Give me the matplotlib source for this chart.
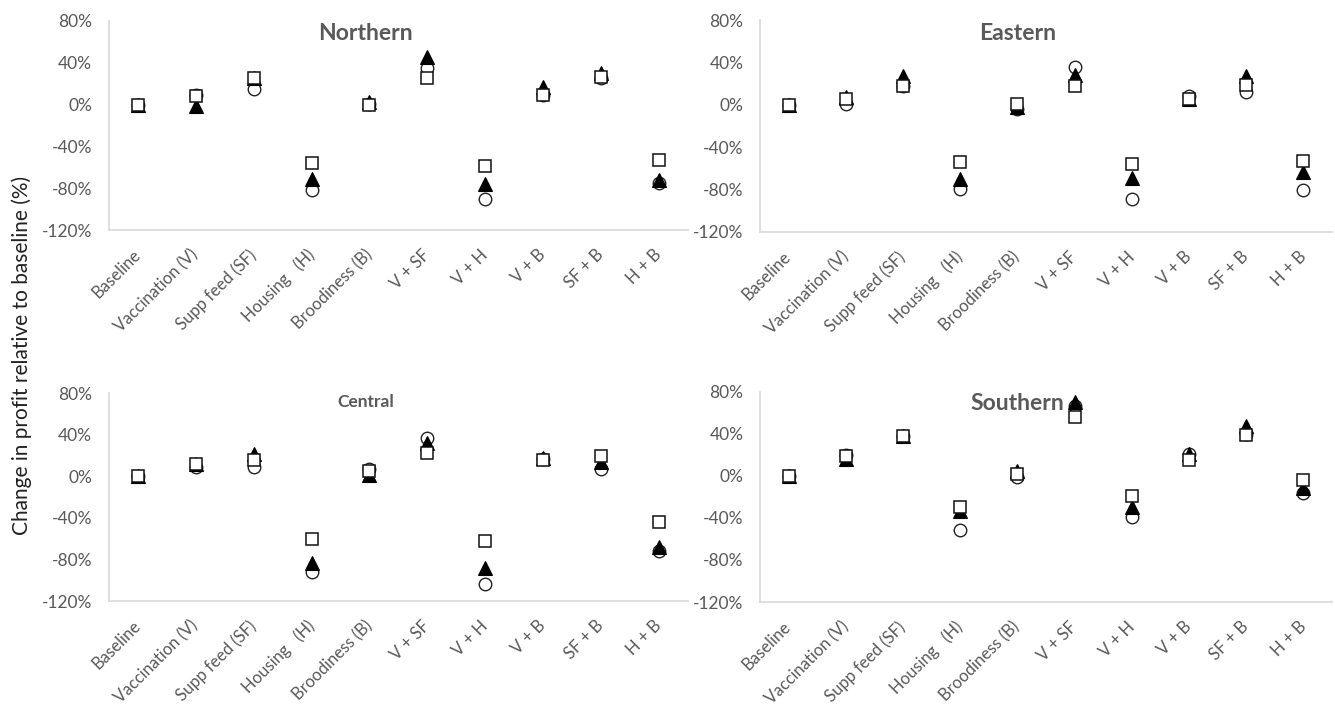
import matplotlib
matplotlib.use("Agg")
import matplotlib.pyplot as plt
from matplotlib.ticker import FuncFormatter

plt.rcParams["font.family"] = ["Lato", "DejaVu Sans"]

# Interventions on the x axis
categories = ["Baseline", "Vaccination (V)", "Supp feed (SF)", "Housing   (H)",
              "Broodiness (B)", "V + SF", "V + H", "V + B", "SF + B", "H + B"]

# Change in profit (%) per region, three scenarios each
# (open circle, filled triangle, open square)
northern_circle = [0, 9, 15, -82, 1, 35, -90, 9, 25, -75]
northern_triangle = [0, -1, 25, -71, 2, 46, -76, 17, 30, -72]
northern_square = [0, 8, 25, -56, 0, 25, -59, 9, 26, -53]

eastern_circle = [0, 1, 18, -79, -4, 36, -89, 8, 12, -80]
eastern_triangle = [0, 7, 27, -70, -2, 28, -69, 6, 27, -63]
eastern_square = [0, 6, 18, -54, 1, 18, -56, 6, 19, -53]

central_circle = [0, 9, 9, -92, 7, 37, -104, 17, 7, -72]
central_triangle = [0, 12, 21, -83, 1, 32, -88, 18, 14, -68]
central_square = [0, 12, 16, -60, 5, 22, -62, 16, 19, -44]

southern_circle = [0, 20, 38, -51, -1, 67, -39, 21, 40, -16]
southern_triangle = [0, 16, 38, -33, 5, 70, -30, 21, 48, -11]
southern_square = [0, 19, 38, -30, 2, 56, -19, 15, 39, -4]

panels = [
    ("Northern", northern_circle, northern_triangle, northern_square),
    ("Eastern", eastern_circle, eastern_triangle, eastern_square),
    ("Central", central_circle, central_triangle, central_square),
    ("Southern", southern_circle, southern_triangle, southern_square),
]

# axes boxes [left, bottom, width, height] and title spots in figure fractions
boxes = [
    [0.0816, 0.6765, 0.4337, 0.2940],
    [0.5693, 0.6737, 0.4285, 0.2980],
    [0.0816, 0.1547, 0.4337, 0.2925],
    [0.5693, 0.1533, 0.4285, 0.2954],
]
title_pos = [(0.274, 0.953, 16.5), (0.762, 0.953, 16.5), (0.274, 0.434, 12.5), (0.762, 0.432, 16.5)]

GREY = "#595959"
AXIS = "#d9d9d9"

fig = plt.figure(figsize=(13.35, 7.11), dpi=100)
x = list(range(len(categories)))

for (name, circ, tri, sq), box, (tx, ty, ts) in zip(panels, boxes, title_pos):
    ax = fig.add_axes(box)
    ax.plot(x, circ, linestyle="none", marker="o", markersize=9,
            markerfacecolor="white", markeredgecolor="#222222", markeredgewidth=1.0, zorder=3)
    ax.plot(x, tri, linestyle="none", marker="^", markersize=9.5,
            markerfacecolor="black", markeredgecolor="black", markeredgewidth=0.8, zorder=4)
    ax.plot(x, sq, linestyle="none", marker="s", markersize=9,
            markerfacecolor="white", markeredgecolor="#111111", markeredgewidth=1.1, zorder=5)

    ax.set_xlim(-0.5, len(categories) - 0.5)
    ax.set_ylim(-120, 80)
    ax.set_yticks([-120, -80, -40, 0, 40, 80])
    ax.yaxis.set_major_formatter(FuncFormatter(lambda v, p: f"{v:.0f}%"))
    ax.set_xticks(x)
    ax.set_xticklabels(categories, rotation=45, ha="right", va="center",
                       rotation_mode="anchor")
    ax.tick_params(axis="x", length=0, labelsize=12, labelcolor=GREY, pad=16)
    ax.tick_params(axis="y", length=0, labelsize=12.5, labelcolor=GREY, pad=12)

    for side in ("top", "right"):
        ax.spines[side].set_visible(False)
    for side in ("left", "bottom"):
        ax.spines[side].set_color(AXIS)
        ax.spines[side].set_linewidth(1.2)

    fig.text(tx, ty, name, ha="center", va="center", fontsize=ts,
             fontweight="bold", color=GREY)

fig.text(0.016, 0.5, "Change in profit relative to baseline (%)", rotation=90,
         ha="center", va="center", fontsize=15, color="#222222")

fig.savefig("out.png", dpi=100, facecolor="white")
